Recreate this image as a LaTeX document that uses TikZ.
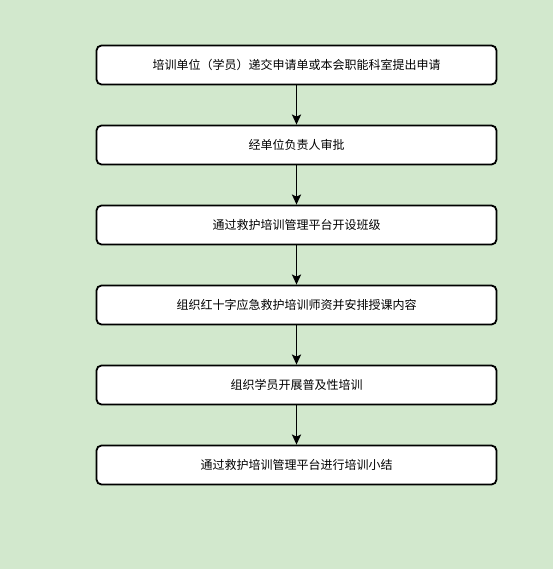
\documentclass[tikz,border=0pt]{standalone}
\usepackage{fontspec}
\setmainfont{Noto Sans CJK SC}
\usetikzlibrary{arrows.meta, positioning}
\definecolor{bggreen}{HTML}{D2E8CD}

\begin{document}
\begin{tikzpicture}[x=1pt, y=-1pt, >={Stealth[length=10pt, width=9pt, inset=2pt]},
  stepbox/.style={draw, fill=white, rounded corners=5pt, line width=1.8pt,
    minimum width=400pt, minimum height=39pt, font=\fontsize{12}{14}\selectfont},
  flow/.style={->, line width=1.8pt}]
  % background and margins
  \fill[bggreen] (0,0) rectangle (553,569);
  \useasboundingbox (0,0) rectangle (553,569);

  % the steps
  \node[stepbox] (apply) at (296.5,65) {培训单位（学员）递交申请单或本会职能科室提出申请};
  \node[stepbox, below=39.2pt of apply] (approve) {经单位负责人审批};
  \node[stepbox, below=39.2pt of approve] (open) {通过救护培训管理平台开设班级};
  \node[stepbox, below=39.2pt of open] (teachers) {组织红十字应急救护培训师资并安排授课内容};
  \node[stepbox, below=39.2pt of teachers] (train) {组织学员开展普及性培训};
  \node[stepbox, below=39.2pt of train] (summary) {通过救护培训管理平台进行培训小结};

  % connectors
  \foreach \a/\b in {apply/approve, approve/open, open/teachers, teachers/train, train/summary}
    \draw[flow] (\a) -- (\b);
\end{tikzpicture}
\end{document}
